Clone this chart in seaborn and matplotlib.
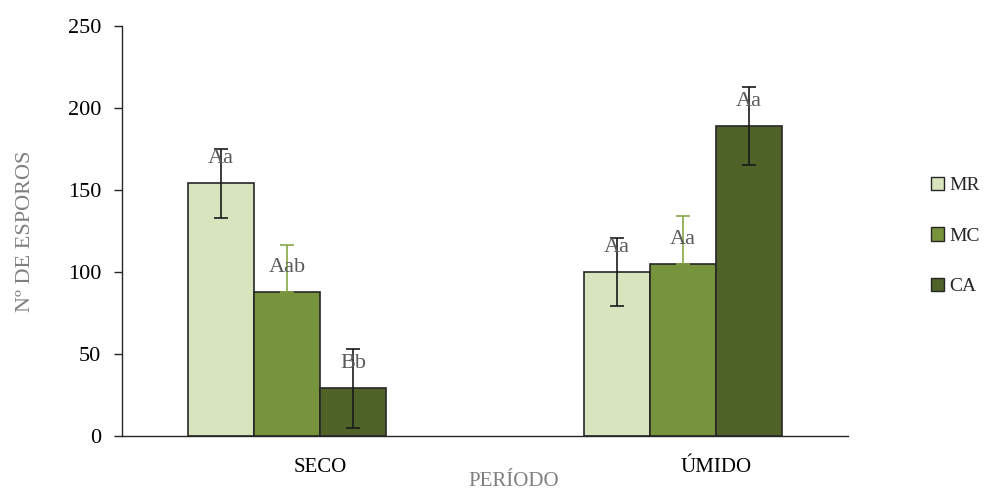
import matplotlib
matplotlib.use("Agg")
import matplotlib.pyplot as plt
import matplotlib.transforms as mtransforms
import seaborn as sns
import pandas as pd

periods = ["SECO", "ÚMIDO"]
groups = ["MR", "MC", "CA"]
means = {
    "MR": [154, 100],
    "MC": [87.5, 105],
    "CA": [29, 189],
}
errors = {
    "MR": [21, 21],
    "MC": [29, 29],
    "CA": [24, 24],
}
letters = {
    "MR": ["Aa", "Aa"],
    "MC": ["Aab", "Aa"],
    "CA": ["Bb", "Aa"],
}
colors = {"MR": "#D7E4BD", "MC": "#77933C", "CA": "#4F6228"}
err_colors = {"MR": "#1a1a1a", "MC": "#86A745", "CA": "#1a1a1a"}
upper_only = {"MR": False, "MC": True, "CA": False}

rows = []
for g in groups:
    for p, m in zip(periods, means[g]):
        rows.append({"periodo": p, "grupo": g, "n": m})
df = pd.DataFrame(rows)

sns.set_style("white")
plt.rcParams["font.family"] = ["Liberation Serif", "DejaVu Serif"]

fig = plt.figure(figsize=(9.87, 4.95), dpi=100)
ax = fig.add_axes([0.1236, 0.1192, 0.7354, 0.8283])

sns.barplot(data=df, x="periodo", y="n", hue="grupo", order=periods,
            hue_order=groups, palette=colors, width=0.5, errorbar=None,
            edgecolor="#262626", linewidth=1.2, saturation=1, ax=ax)

for g, cont in zip(groups, ax.containers):
    for i, bar in enumerate(cont.patches):
        x = bar.get_x() + bar.get_width() / 2
        m = means[g][i]
        e = errors[g][i]
        lower = 0 if upper_only[g] else e
        ax.errorbar(x, m, yerr=[[lower], [e]], fmt="none",
                    ecolor=err_colors[g], elinewidth=1.2, capsize=4.7,
                    capthick=1.2, zorder=4)
        ax.text(x, m + 15, letters[g][i], ha="center", va="center",
                fontsize=16, color="#595959", zorder=5)

ax.set_xlim(-0.4167, 1.4167)
ax.set_ylim(0, 250)
ax.set_yticks([0, 50, 100, 150, 200, 250])
ax.tick_params(axis="y", which="both", left=True, length=6, width=1,
               color="#262626", labelsize=16, labelcolor="black", pad=9)
ax.tick_params(axis="x", bottom=False, labelsize=15, labelcolor="black", pad=12)

# category labels sit a little to the right of the group centres
shift = mtransforms.ScaledTranslation(0.33, 0, fig.dpi_scale_trans)
for lbl in ax.get_xticklabels():
    lbl.set_transform(lbl.get_transform() + shift)

for side in ["top", "right"]:
    ax.spines[side].set_visible(False)
for side in ["left", "bottom"]:
    ax.spines[side].set_color("#262626")
    ax.spines[side].set_linewidth(1)

ax.set_xlabel("PERÍODO", fontsize=15, color="#7F7F7F")
ax.xaxis.set_label_coords(0.54, -0.088)
ax.set_ylabel("Nº DE ESPOROS", fontsize=16, color="#7F7F7F")
ax.yaxis.set_label_coords(-0.12, 0.5)

leg = ax.legend(loc="center left", bbox_to_anchor=(1.09, 0.488), frameon=False,
                fontsize=14, handlelength=0.68, handleheight=0.68,
                handletextpad=0.3, labelspacing=1.7)
for h in leg.legend_handles:
    h.set_edgecolor("#262626")
    h.set_linewidth(1)

fig.savefig("out.png", dpi=100)
